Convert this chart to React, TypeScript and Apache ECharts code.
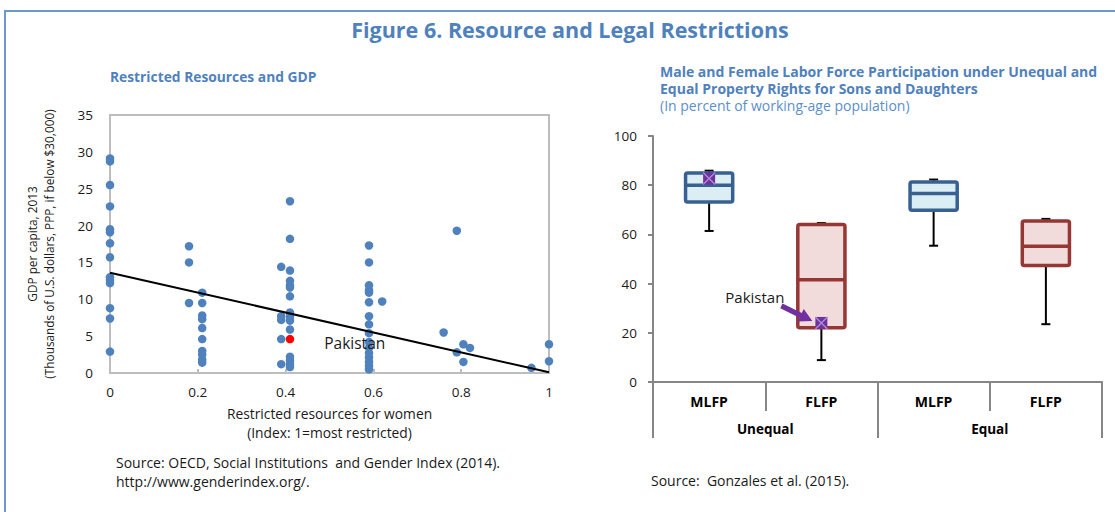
import React, { useEffect, useRef } from "react";
import * as echarts from "echarts";

// ---------- Left panel: restricted resources vs GDP ----------
const restrictionIndex = [
  0, 0, 0, 0, 0, 0, 0, 0, 0, 0, 0, 0, 0, 0,
  0.18, 0.18, 0.18,
  0.21, 0.21, 0.21, 0.21, 0.21, 0.21, 0.21, 0.21, 0.21, 0.21,
  0.39, 0.39, 0.39, 0.39, 0.39,
  0.41, 0.41, 0.41, 0.41, 0.41, 0.41, 0.41, 0.41, 0.41, 0.41, 0.41, 0.41, 0.41, 0.41, 0.41,
  0.59, 0.59, 0.59, 0.59, 0.59, 0.59, 0.59, 0.59, 0.59, 0.59, 0.59, 0.59, 0.59, 0.59, 0.59, 0.59,
  0.62, 0.76, 0.79, 0.79, 0.805, 0.805, 0.82, 0.96, 1.0, 1.0,
];
const gdpPerCapita = [
  29.1, 28.7, 25.5, 22.6, 19.5, 19.1, 17.6, 15.7, 13.0, 12.6, 12.2, 8.8, 7.4, 2.9,
  17.2, 15.0, 9.5,
  10.9, 9.5, 7.8, 7.3, 6.1, 4.6, 3.0, 2.5, 1.8, 1.4,
  14.4, 7.7, 7.2, 4.6, 1.2,
  23.3, 18.2, 13.9, 12.5, 11.9, 11.6, 10.4, 8.2, 7.6, 7.1, 5.9, 2.2, 1.7, 1.2, 0.8,
  17.3, 15.0, 11.9, 11.2, 10.9, 9.6, 7.7, 6.6, 5.4, 4.2, 3.4, 2.7, 2.1, 1.5, 1.0, 0.5,
  9.7, 5.5, 19.3, 2.8, 3.9, 1.5, 3.4, 0.7, 3.9, 1.6,
];
const pakistanPoint = [0.41, 4.6];
const trendIndex = [0, 1];
const trendGdp = [13.6, 0.1];

// ---------- Right panel: labor force participation box plots ----------
const boxCategories = ["MLFP", "FLFP", "MLFP", "FLFP"];
const rightsGroups = ["Unequal", "Equal"];
const whiskerLow = [61.4, 8.9, 55.4, 23.5];
const quartile1 = [73.2, 22.1, 69.8, 47.4];
const medianValue = [80.0, 41.6, 76.6, 55.2];
const quartile3 = [85.0, 64.0, 81.3, 65.4];
const whiskerHigh = [85.9, 64.6, 82.3, 66.3];
const pakistanCategory = [0, 1];
const pakistanLFP = [82.7, 24.0];
const pakistanArrowAt = 1;

const BLUE_TITLE = "#4f81bd";
const FONT = "'Open Sans', 'Noto Sans', sans-serif";

export default function App() {
  const ref = useRef<HTMLDivElement>(null);

  useEffect(() => {
    document.body.style.margin = "0";
    const chart = echarts.init(ref.current!, null, { renderer: "svg" });

    const scatterData = restrictionIndex.map((x, i) => [x, gdpPerCapita[i]]);
    const trendData = trendIndex.map((x, i) => [x, trendGdp[i]]);
    const boxData = boxCategories.map((_, i) => [
      i, whiskerLow[i], quartile1[i], medianValue[i], quartile3[i], whiskerHigh[i],
    ]);
    const pakData = pakistanCategory.map((c, i) => [c, pakistanLFP[i]]);

    const option: any = {
      animation: false,
      textStyle: { fontFamily: FONT },
      graphic: [
        {
          type: "rect",
          shape: { x: 5, y: 11, width: 1200, height: 600 },
          style: { fill: "none", stroke: "#6a98cf", lineWidth: 2 },
          silent: true,
        },
        {
          type: "text",
          x: 570, y: 29,
          style: {
            text: "Figure 6. Resource and Legal Restrictions",
            fill: BLUE_TITLE, font: `bold 21.5px ${FONT}`,
            textAlign: "center", textVerticalAlign: "middle",
          },
        },
        {
          type: "text",
          x: 110, y: 76,
          style: {
            text: "Restricted Resources and GDP",
            fill: BLUE_TITLE, font: `bold 13.8px ${FONT}`,
            textVerticalAlign: "middle",
          },
        },
        {
          type: "text",
          x: 660, y: 71,
          style: {
            text: "Male and Female Labor Force Participation under Unequal and",
            fill: BLUE_TITLE, font: `bold 14px ${FONT}`, lineHeight: 15,
            textVerticalAlign: "middle",
          },
        },
        {
          type: "text",
          x: 660, y: 88,
          style: {
            text: "Equal Property Rights for Sons and Daughters",
            fill: BLUE_TITLE, font: `bold 14px ${FONT}`, lineHeight: 15,
            textVerticalAlign: "middle",
          },
        },
        {
          type: "text",
          x: 660, y: 105,
          style: {
            text: "(In percent of working-age population)",
            fill: "#5b8fc9", font: `14px ${FONT}`, lineHeight: 15,
            textVerticalAlign: "middle",
          },
        },
        {
          type: "text",
          x: 116, y: 462,
          style: {
            text: "Source: OECD, Social Institutions  and Gender Index (2014).",
            fill: "#1a1a1a", font: `14px ${FONT}`,
            textVerticalAlign: "middle",
          },
        },
        {
          type: "text",
          x: 116, y: 481,
          style: {
            text: "http://www.genderindex.org/.",
            fill: "#1a1a1a", font: `14px ${FONT}`,
            textVerticalAlign: "middle",
          },
        },
        {
          type: "text",
          x: 651, y: 480,
          style: {
            text: "Source:  Gonzales et al. (2015).",
            fill: "#1a1a1a", font: `14px ${FONT}`,
            textVerticalAlign: "middle",
          },
        },
      ],
      grid: [
        {
          left: 110, top: 115, width: 439, height: 258,
          show: true, borderColor: "#bdbdbd", borderWidth: 2,
        },
        { left: 653, top: 136, width: 449, height: 246 },
      ],
      xAxis: [
        {
          type: "value", gridIndex: 0, min: 0, max: 1, interval: 0.2,
          axisLine: { show: true, lineStyle: { color: "#bdbdbd", width: 2 } },
          axisTick: { show: true, inside: true, length: 4, lineStyle: { color: "#bdbdbd", width: 2 } },
          splitLine: { show: false },
          axisLabel: { color: "#1a1a1a", fontSize: 13.5, margin: 12, fontFamily: FONT },
          name: "Restricted resources for women\n(Index: 1=most restricted)",
          nameLocation: "middle", nameGap: 31,
          nameTextStyle: { color: "#1a1a1a", fontSize: 13.8, lineHeight: 19, fontFamily: FONT },
        },
        {
          type: "category", gridIndex: 1, data: boxCategories,
          axisLine: { show: true, lineStyle: { color: "#868686", width: 2 } },
          axisTick: { show: true, interval: 0, length: 29, lineStyle: { color: "#868686", width: 2 } },
          axisLabel: { color: "#000", fontSize: 14, fontWeight: "bold", margin: 12, interval: 0, fontFamily: FONT },
        },
        {
          type: "category", gridIndex: 1, data: rightsGroups, position: "bottom",
          axisLine: { show: false },
          axisTick: { show: true, interval: 0, length: 56, lineStyle: { color: "#868686", width: 2 } },
          axisLabel: { color: "#000", fontSize: 13.5, fontWeight: "bold", margin: 40, interval: 0, fontFamily: FONT },
        },
      ],
      yAxis: [
        {
          type: "value", gridIndex: 0, min: 0, max: 35, interval: 5,
          axisLine: { show: true, lineStyle: { color: "#bdbdbd", width: 2 } },
          axisTick: { show: false },
          splitLine: { show: false },
          axisLabel: { color: "#1a1a1a", fontSize: 13.5, margin: 17, fontFamily: FONT },
          name: "GDP per capita, 2013\n(Thousands of U.S. dollars, PPP, if below $30,000)",
          nameLocation: "middle", nameRotate: 90, nameGap: 53,
          nameTextStyle: { color: "#1a1a1a", fontSize: 11.8, lineHeight: 17, fontFamily: FONT },
        },
        {
          type: "value", gridIndex: 1, min: 0, max: 100, interval: 20,
          axisLine: { show: true, lineStyle: { color: "#868686", width: 2 } },
          axisTick: { show: true, length: 5, lineStyle: { color: "#868686", width: 2 } },
          splitLine: { show: false },
          axisLabel: { color: "#1a1a1a", fontSize: 13.5, margin: 16, fontFamily: FONT },
        },
      ],
      series: [
        {
          type: "scatter", xAxisIndex: 0, yAxisIndex: 0,
          data: scatterData, symbolSize: 8.5,
          itemStyle: { color: "#4f81bd", opacity: 1 },
        },
        {
          type: "line", xAxisIndex: 0, yAxisIndex: 0,
          data: trendData, showSymbol: false, symbol: "none",
          lineStyle: { color: "#000", width: 2 },
        },
        {
          type: "scatter", xAxisIndex: 0, yAxisIndex: 0,
          data: [pakistanPoint], symbolSize: 8.5,
          itemStyle: { color: "#ff0000", opacity: 1 },
          label: {
            show: true, position: "right", distance: 30,
            formatter: "Pakistan", color: "#1a1a1a", fontSize: 15.5, fontFamily: FONT,
            offset: [0, 4],
          },
          z: 5,
        },
        {
          type: "custom", xAxisIndex: 1, yAxisIndex: 1,
          data: boxData,
          encode: { x: 0, y: [1, 2, 3, 4, 5] },
          renderItem: (params: any, api: any) => {
            const i = api.value(0);
            const low = api.coord([i, api.value(1)]);
            const q1 = api.coord([i, api.value(2)]);
            const med = api.coord([i, api.value(3)]);
            const q3 = api.coord([i, api.value(4)]);
            const high = api.coord([i, api.value(5)]);
            const bw = api.size([1, 0])[0] * 0.42;
            const x = low[0];
            const male = i % 2 === 0;
            const stroke = male ? "#386192" : "#953735";
            const fill = male ? "#dbeef4" : "#f2dcdb";
            const cap = 9;
            const black = { stroke: "#000", lineWidth: 2 };
            return {
              type: "group",
              children: [
                { type: "line", shape: { x1: x, y1: q1[1], x2: x, y2: low[1] }, style: black },
                { type: "line", shape: { x1: x - cap / 2, y1: low[1], x2: x + cap / 2, y2: low[1] }, style: black },
                { type: "line", shape: { x1: x, y1: q3[1], x2: x, y2: high[1] }, style: black },
                { type: "line", shape: { x1: x - cap / 2, y1: high[1], x2: x + cap / 2, y2: high[1] }, style: black },
                {
                  type: "rect",
                  shape: { x: x - bw / 2, y: q3[1], width: bw, height: q1[1] - q3[1], r: 2 },
                  style: { fill, stroke, lineWidth: 3.5 },
                },
                {
                  type: "line",
                  shape: { x1: x - bw / 2, y1: med[1], x2: x + bw / 2, y2: med[1] },
                  style: { stroke, lineWidth: 3.5 },
                },
              ],
            };
          },
          z: 3,
        },
        {
          type: "custom", xAxisIndex: 1, yAxisIndex: 1,
          data: pakData,
          encode: { x: 0, y: 1 },
          renderItem: (params: any, api: any) => {
            const p = api.coord([api.value(0), api.value(1)]);
            const s = 12;
            const children: any[] = [
              {
                type: "rect",
                shape: { x: p[0] - s / 2, y: p[1] - s / 2, width: s, height: s },
                style: { fill: "#7030a0" },
              },
              {
                type: "line",
                shape: { x1: p[0] - s / 2, y1: p[1] - s / 2, x2: p[0] + s / 2, y2: p[1] + s / 2 },
                style: { stroke: "#a98bd0", lineWidth: 1.5 },
              },
              {
                type: "line",
                shape: { x1: p[0] + s / 2, y1: p[1] - s / 2, x2: p[0] - s / 2, y2: p[1] + s / 2 },
                style: { stroke: "#a98bd0", lineWidth: 1.5 },
              },
            ];
            if (api.value(0) === pakistanArrowAt) {
              const sx = p[0] - 40, sy = p[1] - 17;
              const tx = p[0] - 9, ty = p[1] - 2;
              const dx = tx - sx, dy = ty - sy;
              const len = Math.sqrt(dx * dx + dy * dy);
              const ux = dx / len, uy = dy / len;
              const nx = -uy, ny = ux;
              const w = 2.6, hw = 7, hl = 13;
              const hx = tx - ux * hl, hy = ty - uy * hl;
              children.unshift({
                type: "polygon",
                shape: {
                  points: [
                    [sx + nx * w, sy + ny * w],
                    [hx + nx * w, hy + ny * w],
                    [hx + nx * hw, hy + ny * hw],
                    [tx, ty],
                    [hx - nx * hw, hy - ny * hw],
                    [hx - nx * w, hy - ny * w],
                    [sx - nx * w, sy - ny * w],
                  ],
                },
                style: { fill: "#7030a0" },
              });
              children.push({
                type: "text",
                x: p[0] - 37, y: p[1] - 26,
                style: {
                  text: "Pakistan", fill: "#1a1a1a", font: `15px ${FONT}`,
                  textAlign: "right", textVerticalAlign: "middle",
                },
              });
            }
            return { type: "group", children };
          },
          z: 6,
        },
      ],
    };

    chart.setOption(option);
    return () => chart.dispose();
  }, []);

  return <div ref={ref} style={{ width: 1115, height: 512 }} />;
}
